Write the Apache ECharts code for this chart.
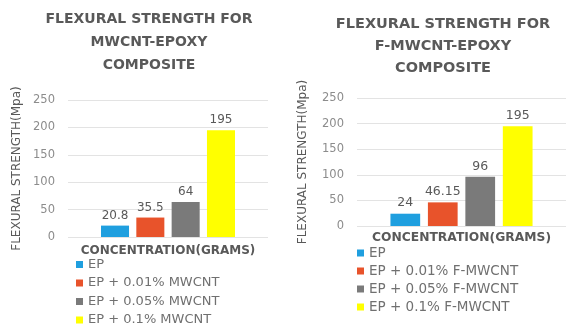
<!DOCTYPE html>
<html>
<head>
<meta charset="utf-8">
<title>Flexural strength</title>
<script src="https://cdn.jsdelivr.net/npm/echarts@6/dist/echarts.min.js"></script>
<style>
  html, body { margin: 0; padding: 0; background: #fff; }
  #chart { width: 566px; height: 329px; }
</style>
</head>
<body>
<div id="chart"></div>
<script>
// Shared category and axis ticks
const categories = ['CONCENTRATION(GRAMS)'];
const yTicks = [0, 50, 100, 150, 200, 250];

// Left panel: MWCNT-epoxy
const leftSeriesNames = ['EP', 'EP + 0.01% MWCNT', 'EP + 0.05% MWCNT', 'EP + 0.1% MWCNT'];
const leftValues = [20.8, 35.5, 64, 195];

// Right panel: functionalised MWCNT-epoxy
const rightSeriesNames = ['EP', 'EP + 0.01% F-MWCNT', 'EP + 0.05% F-MWCNT', 'EP + 0.1% F-MWCNT'];
const rightValues = [24, 46.15, 96, 195];

const colors = ['#1f9fdf', '#e8532b', '#7a7a7a', '#ffff00'];
const FONT = 'DejaVu Sans';
const TXT = '#595959';

const chart = echarts.init(document.getElementById('chart'), null, { renderer: 'canvas' });

function yAxisFor(gridIndex, fs, nameGap) {
  return {
    type: 'value', gridIndex,
    min: yTicks[0], max: yTicks[yTicks.length - 1], interval: yTicks[1] - yTicks[0],
    name: 'FLEXURAL STRENGTH(Mpa)', nameLocation: 'middle', nameRotate: 90, nameGap,
    nameTextStyle: { color: TXT, fontFamily: FONT, fontSize: fs },
    axisLine: { show: false }, axisTick: { show: false },
    axisLabel: { color: '#8c8c8c', fontFamily: FONT, fontSize: 11.5, margin: 13 },
    splitLine: { lineStyle: { color: '#e3e3e3', width: 1 } }
  };
}

function xAxisFor(gridIndex, fs, margin) {
  return {
    type: 'category', gridIndex, data: categories,
    axisLine: { show: false }, axisTick: { show: false },
    axisLabel: { color: TXT, fontFamily: FONT, fontWeight: 'bold', fontSize: fs, margin }
  };
}

function barsFor(names, values, idx, fs, catGap) {
  return names.map((n, i) => ({
    type: 'bar', name: n, xAxisIndex: idx, yAxisIndex: idx,
    data: [values[i]],
    itemStyle: { color: colors[i] },
    barCategoryGap: catGap, barGap: '26%',
    label: { show: true, position: 'top', distance: 4, color: TXT, fontFamily: FONT, fontSize: fs },
    animation: false
  }));
}

function legendFor(names, left, top, gap, fs) {
  return {
    orient: 'vertical', left, top, itemGap: gap, padding: 0,
    itemWidth: 7, itemHeight: 7, icon: 'rect',
    data: names.map((n, i) => ({ name: n, itemStyle: { color: colors[i] } })),
    textStyle: { color: '#707070', fontFamily: FONT, fontSize: fs, lineHeight: 12 },
    selectedMode: false
  };
}

chart.setOption({
  animation: false,
  title: [
    {
      text: 'FLEXURAL STRENGTH FOR\nMWCNT-EPOXY\nCOMPOSITE',
      left: 149, top: 8, textAlign: 'center', padding: 0,
      textStyle: { color: TXT, fontFamily: FONT, fontWeight: 'bold', fontSize: 14, lineHeight: 23 }
    },
    {
      text: 'FLEXURAL STRENGTH FOR\nF-MWCNT-EPOXY\nCOMPOSITE',
      left: 443, top: 13, textAlign: 'center', padding: 0,
      textStyle: { color: TXT, fontFamily: FONT, fontWeight: 'bold', fontSize: 14.5, lineHeight: 22 }
    }
  ],
  grid: [
    { left: 68, top: 100, width: 200, height: 137 },
    { left: 357, top: 98, width: 212, height: 128 }
  ],
  xAxis: [xAxisFor(0, 12, 8), xAxisFor(1, 12.3, 6)],
  yAxis: [yAxisFor(0, 12, 45), yAxisFor(1, 12, 48)],
  legend: [
    legendFor(leftSeriesNames, 76, 258, 5.5, 13),
    legendFor(rightSeriesNames, 357, 246, 4, 13.5)
  ],
  series: [
    ...barsFor(leftSeriesNames, leftValues, 0, 12, '33%'),
    ...barsFor(rightSeriesNames, rightValues, 1, 12.5, '32%')
  ]
});
</script>
</body>
</html>
